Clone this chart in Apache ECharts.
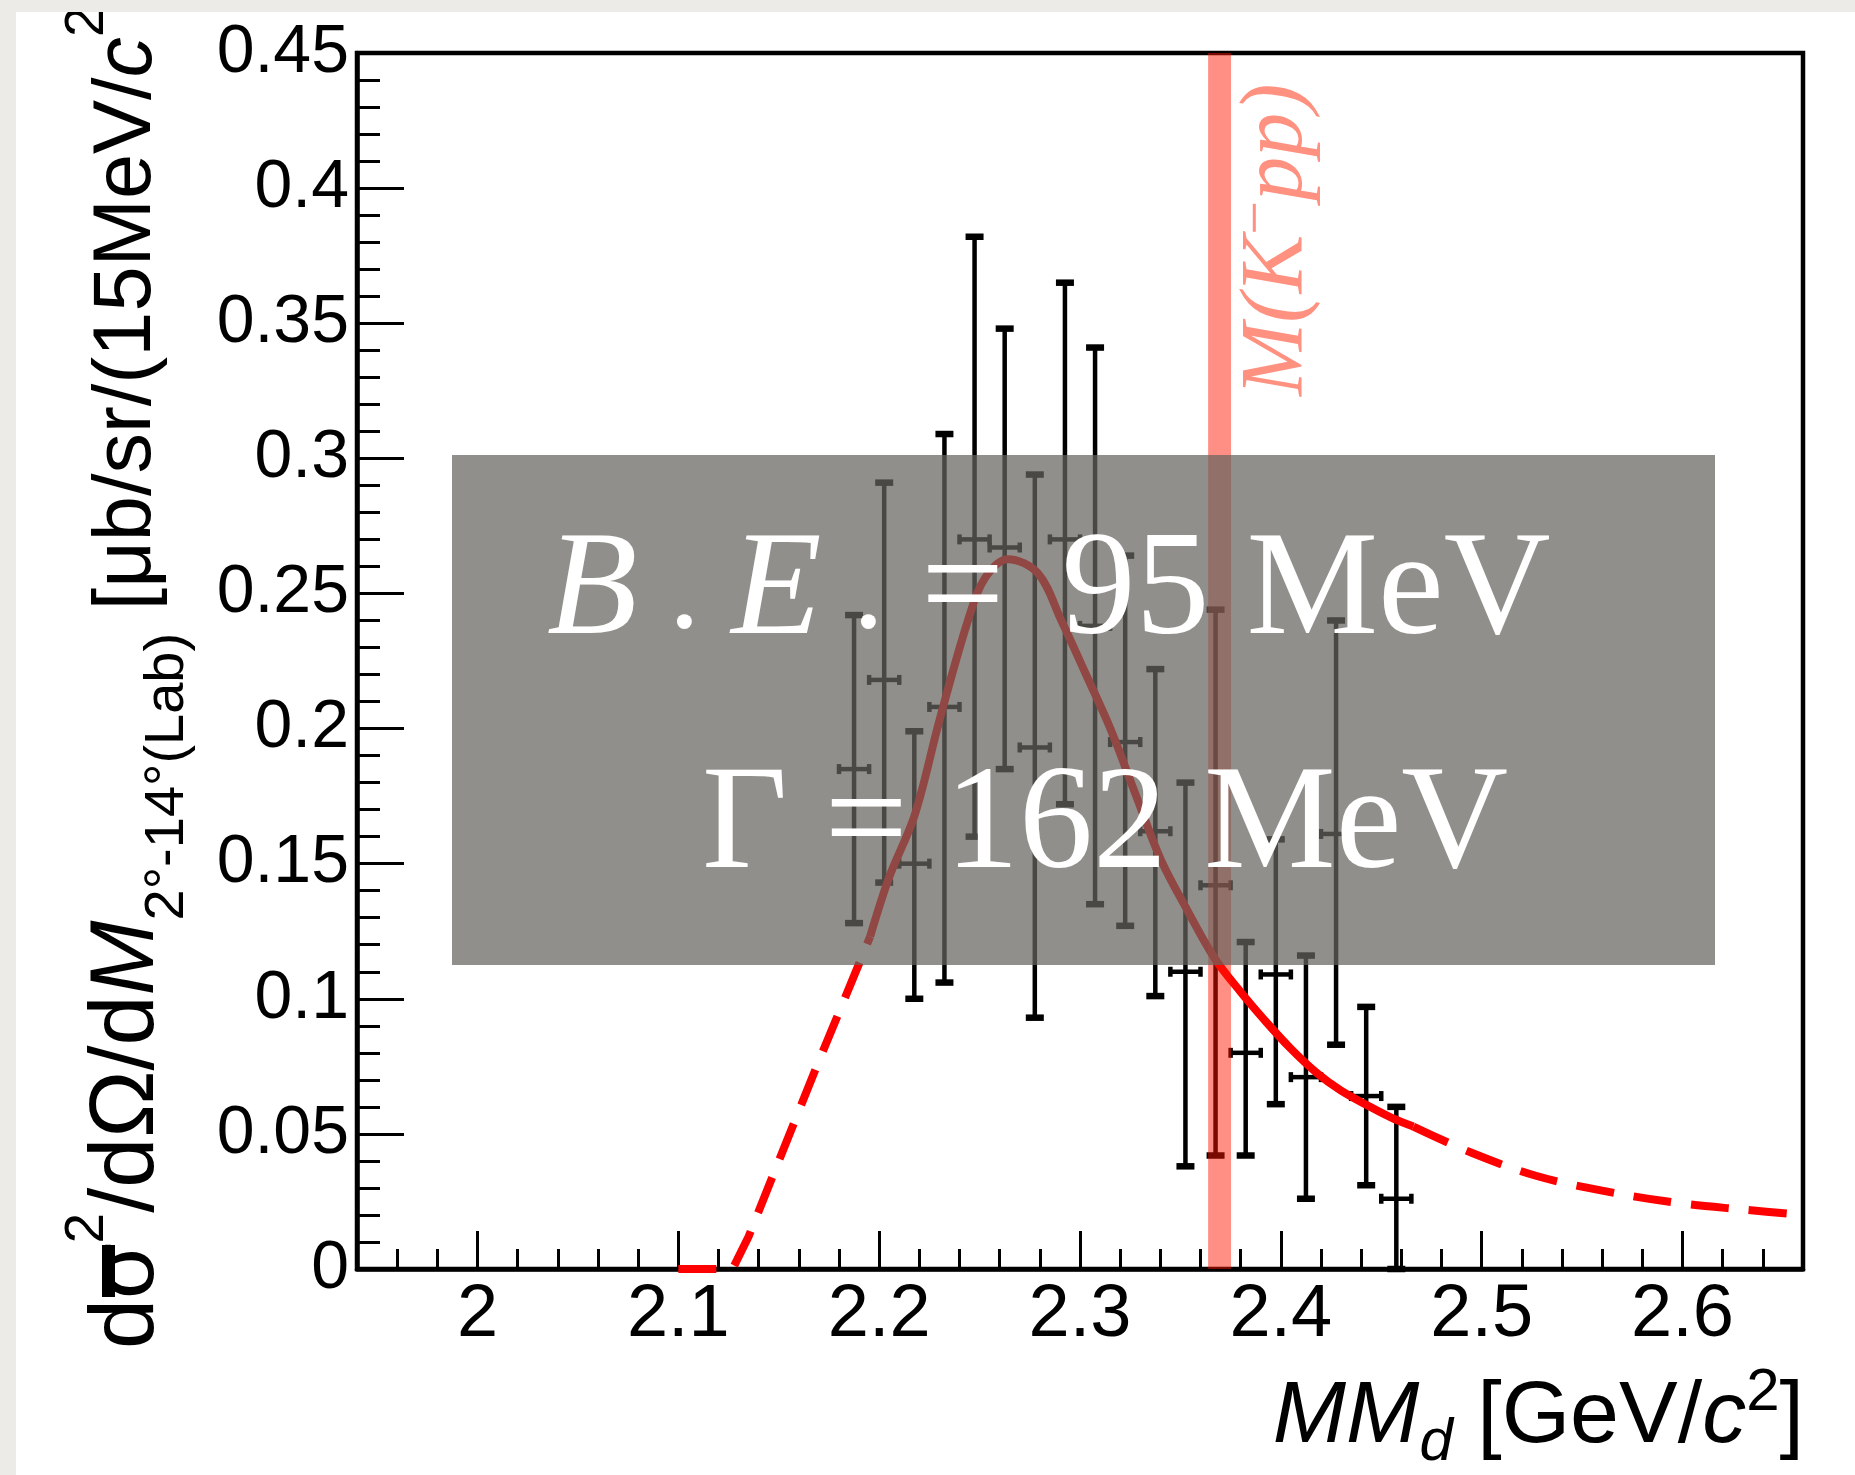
<!DOCTYPE html>
<html>
<head>
<meta charset="utf-8">
<script src="https://cdn.jsdelivr.net/npm/echarts/dist/echarts.min.js"></script>
<style>
  html, body { margin: 0; padding: 0; background: #edebe7; }
  #main { position: absolute; left: 16px; top: 12px; width: 1839px; height: 1463px; background: #ffffff; }
</style>
</head>
<body>
<div id="main"></div>
<script>
// measured points (15 MeV bins)
var binCenters = [2.1875, 2.2025, 2.2175, 2.2325, 2.2475, 2.2625, 2.2775, 2.2925, 2.3075, 2.3225,
                  2.3375, 2.3525, 2.3675, 2.3825, 2.3975, 2.4125, 2.4275, 2.4425, 2.4575];
var yields  = [0.185, 0.218, 0.150, 0.208, 0.270, 0.267, 0.193, 0.270, 0.238, 0.195,
               0.162, 0.110, 0.142, 0.080, 0.109, 0.071, 0.161, 0.064, 0.026];
var errLow  = [0.128, 0.143, 0.100, 0.106, 0.160, 0.185, 0.093, 0.172, 0.135, 0.127,
               0.101, 0.038, 0.042, 0.042, 0.061, 0.026, 0.083, 0.031, 0.000];
var errHigh = [0.242, 0.291, 0.199, 0.309, 0.382, 0.348, 0.294, 0.365, 0.341, 0.264,
               0.222, 0.180, 0.244, 0.121, 0.159, 0.116, 0.240, 0.097, 0.060];
var binHalfWidth = 0.0075;

// fit curve (solid = fit range, dashed = extrapolation)
var fitSolidX = [2.1955, 2.205, 2.2177, 2.23, 2.2442, 2.2525, 2.2642, 2.279, 2.2907, 2.303,
                 2.3154, 2.328, 2.3403, 2.354, 2.367, 2.38, 2.392, 2.405, 2.418, 2.43, 2.4432, 2.455, 2.466];
var fitSolidY = [0.123, 0.145, 0.168, 0.203, 0.240, 0.2555, 0.2627, 0.2575, 0.240, 0.220,
                 0.1995, 0.175, 0.1514, 0.132, 0.115, 0.1025, 0.092, 0.0815, 0.0725, 0.066, 0.0605, 0.056, 0.0527];
var fitLeftX = [2.100, 2.127, 2.135, 2.150, 2.170, 2.190, 2.1955];
var fitLeftY = [0.000, 0.000, 0.012, 0.040, 0.077, 0.113, 0.123];
var fitRightX = [2.466, 2.495, 2.527, 2.560, 2.597, 2.630, 2.660];
var fitRightY = [0.0527, 0.043, 0.0345, 0.029, 0.0245, 0.022, 0.020];

// M(K-pp) threshold band
var kppMass = 2.3695;
var kppHalfWidth = 0.0057;

var xTickLabels = ['2', '2.1', '2.2', '2.3', '2.4', '2.5', '2.6'];

function zip(a, b) {
    var out = [];
    for (var i = 0; i < a.length; i++) out.push([a[i], b[i]]);
    return out;
}

var points = [];
for (var i = 0; i < binCenters.length; i++) {
    points.push([binCenters[i], yields[i], errLow[i], errHigh[i]]);
}

function renderErrorBar(params, api) {
    var x = api.value(0), y = api.value(1), lo = api.value(2), hi = api.value(3);
    var pLo = api.coord([x, lo]);
    var pHi = api.coord([x, hi]);
    var pL = api.coord([x - binHalfWidth, y]);
    var pR = api.coord([x + binHalfWidth, y]);
    var st = { stroke: '#000', lineWidth: 4.5 };
    var capSt = { stroke: '#000', lineWidth: 6.5 };
    var cap = 9, endCap = 5;
    return {
        type: 'group',
        children: [
            { type: 'line', shape: { x1: pLo[0], y1: pLo[1], x2: pHi[0], y2: pHi[1] }, style: st },
            { type: 'line', shape: { x1: pL[0], y1: pL[1], x2: pR[0], y2: pR[1] }, style: st },
            { type: 'line', shape: { x1: pHi[0] - cap, y1: pHi[1], x2: pHi[0] + cap, y2: pHi[1] }, style: capSt },
            { type: 'line', shape: { x1: pLo[0] - cap, y1: pLo[1], x2: pLo[0] + cap, y2: pLo[1] }, style: capSt },
            { type: 'line', shape: { x1: pL[0], y1: pL[1] - endCap, x2: pL[0], y2: pL[1] + endCap }, style: st },
            { type: 'line', shape: { x1: pR[0], y1: pR[1] - endCap, x2: pR[0], y2: pR[1] + endCap }, style: st }
        ]
    };
}

function renderBand(params, api) {
    var p0 = api.coord([api.value(0), 0.45]);
    var p1 = api.coord([api.value(1), 0]);
    return {
        type: 'rect',
        shape: { x: p0[0], y: p0[1], width: p1[0] - p0[0], height: p1[1] - p0[1] },
        style: { fill: 'rgba(255,20,0,0.48)' }
    };
}

var chart = echarts.init(document.getElementById('main'));

var sansFont = 'Liberation Sans';
var serifFont = 'Liberation Serif';

var option = {
    animation: false,
    backgroundColor: '#ffffff',
    grid: {
        left: 341, right: 52, top: 41, bottom: 206,
        show: true, borderColor: '#000', borderWidth: 4.5,
        containLabel: false, outerBoundsMode: 'none'
    },
    xAxis: [
        {
            type: 'value', min: 1.94, max: 2.66, interval: 0.02, position: 'bottom',
            axisLine: { show: true, onZero: false, lineStyle: { color: '#000', width: 4.5 } },
            axisTick: { show: true, inside: true, length: 20, lineStyle: { color: '#000', width: 3 } },
            axisLabel: { show: false },
            splitLine: { show: false }
        },
        {
            type: 'value', min: 1.94, max: 2.66, splitNumber: 7, position: 'bottom',
            axisLine: { show: false, onZero: false },
            axisTick: { show: true, inside: true, length: 38, lineStyle: { color: '#000', width: 3 } },
            axisLabel: {
                show: true, color: '#000', fontFamily: sansFont, fontSize: 74, margin: 10,
                formatter: function (v) {
                    var t = Math.round(v * 10);
                    var s = String(t / 10);
                    return (Math.abs(v * 10 - t) < 1e-6 && xTickLabels.indexOf(s) >= 0) ? s : '';
                }
            },
            splitLine: { show: false }
        }
    ],
    yAxis: {
        type: 'value', min: 0, max: 0.45, interval: 0.05,
        axisLine: { show: true, lineStyle: { color: '#000', width: 4.5 } },
        axisTick: { show: true, inside: true, length: 47, lineStyle: { color: '#000', width: 3 } },
        minorTick: { show: true, splitNumber: 5, length: 23, lineStyle: { color: '#000', width: 3 } },
        axisLabel: { color: '#000', fontFamily: sansFont, fontSize: 68, margin: 8 },
        splitLine: { show: false }
    },
    series: [
        {
            type: 'custom', name: 'data', renderItem: renderErrorBar, data: points, z: 3,
            encode: { x: 0, y: 1 }
        },
        {
            type: 'line', name: 'fit', data: zip(fitSolidX, fitSolidY), smooth: 0.35, showSymbol: false,
            lineStyle: { color: '#ff0000', width: 8 }, z: 4
        },
        {
            type: 'line', name: 'fitLeft', data: zip(fitLeftX, fitLeftY), smooth: false, showSymbol: false,
            lineStyle: { color: '#ff0000', width: 8, type: [38, 20], cap: 'butt' }, z: 4
        },
        {
            type: 'line', name: 'fitRight', data: zip(fitRightX, fitRightY), smooth: 0.35, showSymbol: false,
            lineStyle: { color: '#ff0000', width: 8, type: [38, 20], cap: 'butt' }, z: 4
        },
        {
            type: 'custom', name: 'band', renderItem: renderBand, z: 5,
            data: [[kppMass - kppHalfWidth, kppMass + kppHalfWidth]]
        }
    ],
    graphic: {
        elements: [
            // result box
            {
                type: 'rect', z: 100,
                shape: { x: 436, y: 443, width: 1263, height: 510 },
                style: { fill: 'rgba(103,100,94,0.72)' }
            },
            {
                type: 'text', z: 101, x: 531, y: 582,
                style: {
                    text: '{i|B}{n| . }{i|E}{n| .} = {h| }95 MeV',
                    fontFamily: serifFont, fontSize: 148, fill: '#ffffff',
                    align: 'left', verticalAlign: 'middle',
                    rich: {
                        i: { fontFamily: serifFont, fontSize: 148, fontStyle: 'italic', fill: '#ffffff' },
                        n: { fontFamily: serifFont, fontSize: 125, fill: '#ffffff' },
                        h: { fontFamily: serifFont, fontSize: 80, fill: '#ffffff' }
                    }
                }
            },
            {
                type: 'text', z: 101, x: 686, y: 816,
                style: {
                    text: 'Γ = 162 MeV',
                    fontFamily: serifFont, fontSize: 148, fill: '#ffffff',
                    align: 'left', verticalAlign: 'middle'
                }
            },
            // M(K-pp) label
            {
                type: 'text', z: 50, x: 1262, y: 384, rotation: Math.PI / 2,
                style: {
                    text: '{a|M(K}{s|−}{a|pp)}',
                    fill: '#ff9180', align: 'left', verticalAlign: 'middle',
                    rich: {
                        a: { fontFamily: serifFont, fontSize: 88, fontStyle: 'italic', fill: '#ff9180', lineHeight: 100 },
                        s: { fontFamily: serifFont, fontSize: 60, fill: '#ff9180', lineHeight: 60, verticalAlign: 'top' }
                    }
                }
            },
            // x axis title
            {
                type: 'text', z: 50, x: 1788, y: 1406,
                style: {
                    text: '{i|MM}{sub|d}{m| [GeV/}{i|c}{sup|2}{m|]}',
                    fill: '#000', align: 'right', verticalAlign: 'middle',
                    rich: {
                        m: { fontFamily: sansFont, fontSize: 88, fill: '#000', lineHeight: 110 },
                        i: { fontFamily: sansFont, fontSize: 88, fontStyle: 'italic', fill: '#000', lineHeight: 110 },
                        sub: { fontFamily: sansFont, fontSize: 60, fontStyle: 'italic', fill: '#000', lineHeight: 60, verticalAlign: 'bottom' },
                        sup: { fontFamily: sansFont, fontSize: 60, fill: '#000', lineHeight: 60, verticalAlign: 'top' }
                    }
                }
            },
            // y axis title
            {
                type: 'text', z: 50, x: 112, y: 1337, rotation: Math.PI / 2,
                style: {
                    text: '{p|dσ}{sup|2}{p|/dΩ/d}{i|M}{sub|2°-14°(Lab)}{m| [μb/sr/(15MeV/}{j|c}{sup|2}',
                    fill: '#000', align: 'left', verticalAlign: 'middle',
                    rich: {
                        p: { fontFamily: sansFont, fontSize: 90, fill: '#000', lineHeight: 136 },
                        i: { fontFamily: sansFont, fontSize: 90, fontStyle: 'italic', fill: '#000', lineHeight: 136 },
                        m: { fontFamily: sansFont, fontSize: 81, fill: '#000', lineHeight: 136 },
                        j: { fontFamily: sansFont, fontSize: 81, fontStyle: 'italic', fill: '#000', lineHeight: 136 },
                        sub: { fontFamily: sansFont, fontSize: 56, fill: '#000', lineHeight: 56, verticalAlign: 'bottom' },
                        sup: { fontFamily: sansFont, fontSize: 55, fill: '#000', lineHeight: 98, verticalAlign: 'top' }
                    }
                }
            },
            {
                type: 'rect', z: 51,
                shape: { x: 86, y: 1233, width: 13, height: 52 },
                style: { fill: '#000' }
            }
        ]
    }
};

chart.setOption(option);
</script>
</body>
</html>
